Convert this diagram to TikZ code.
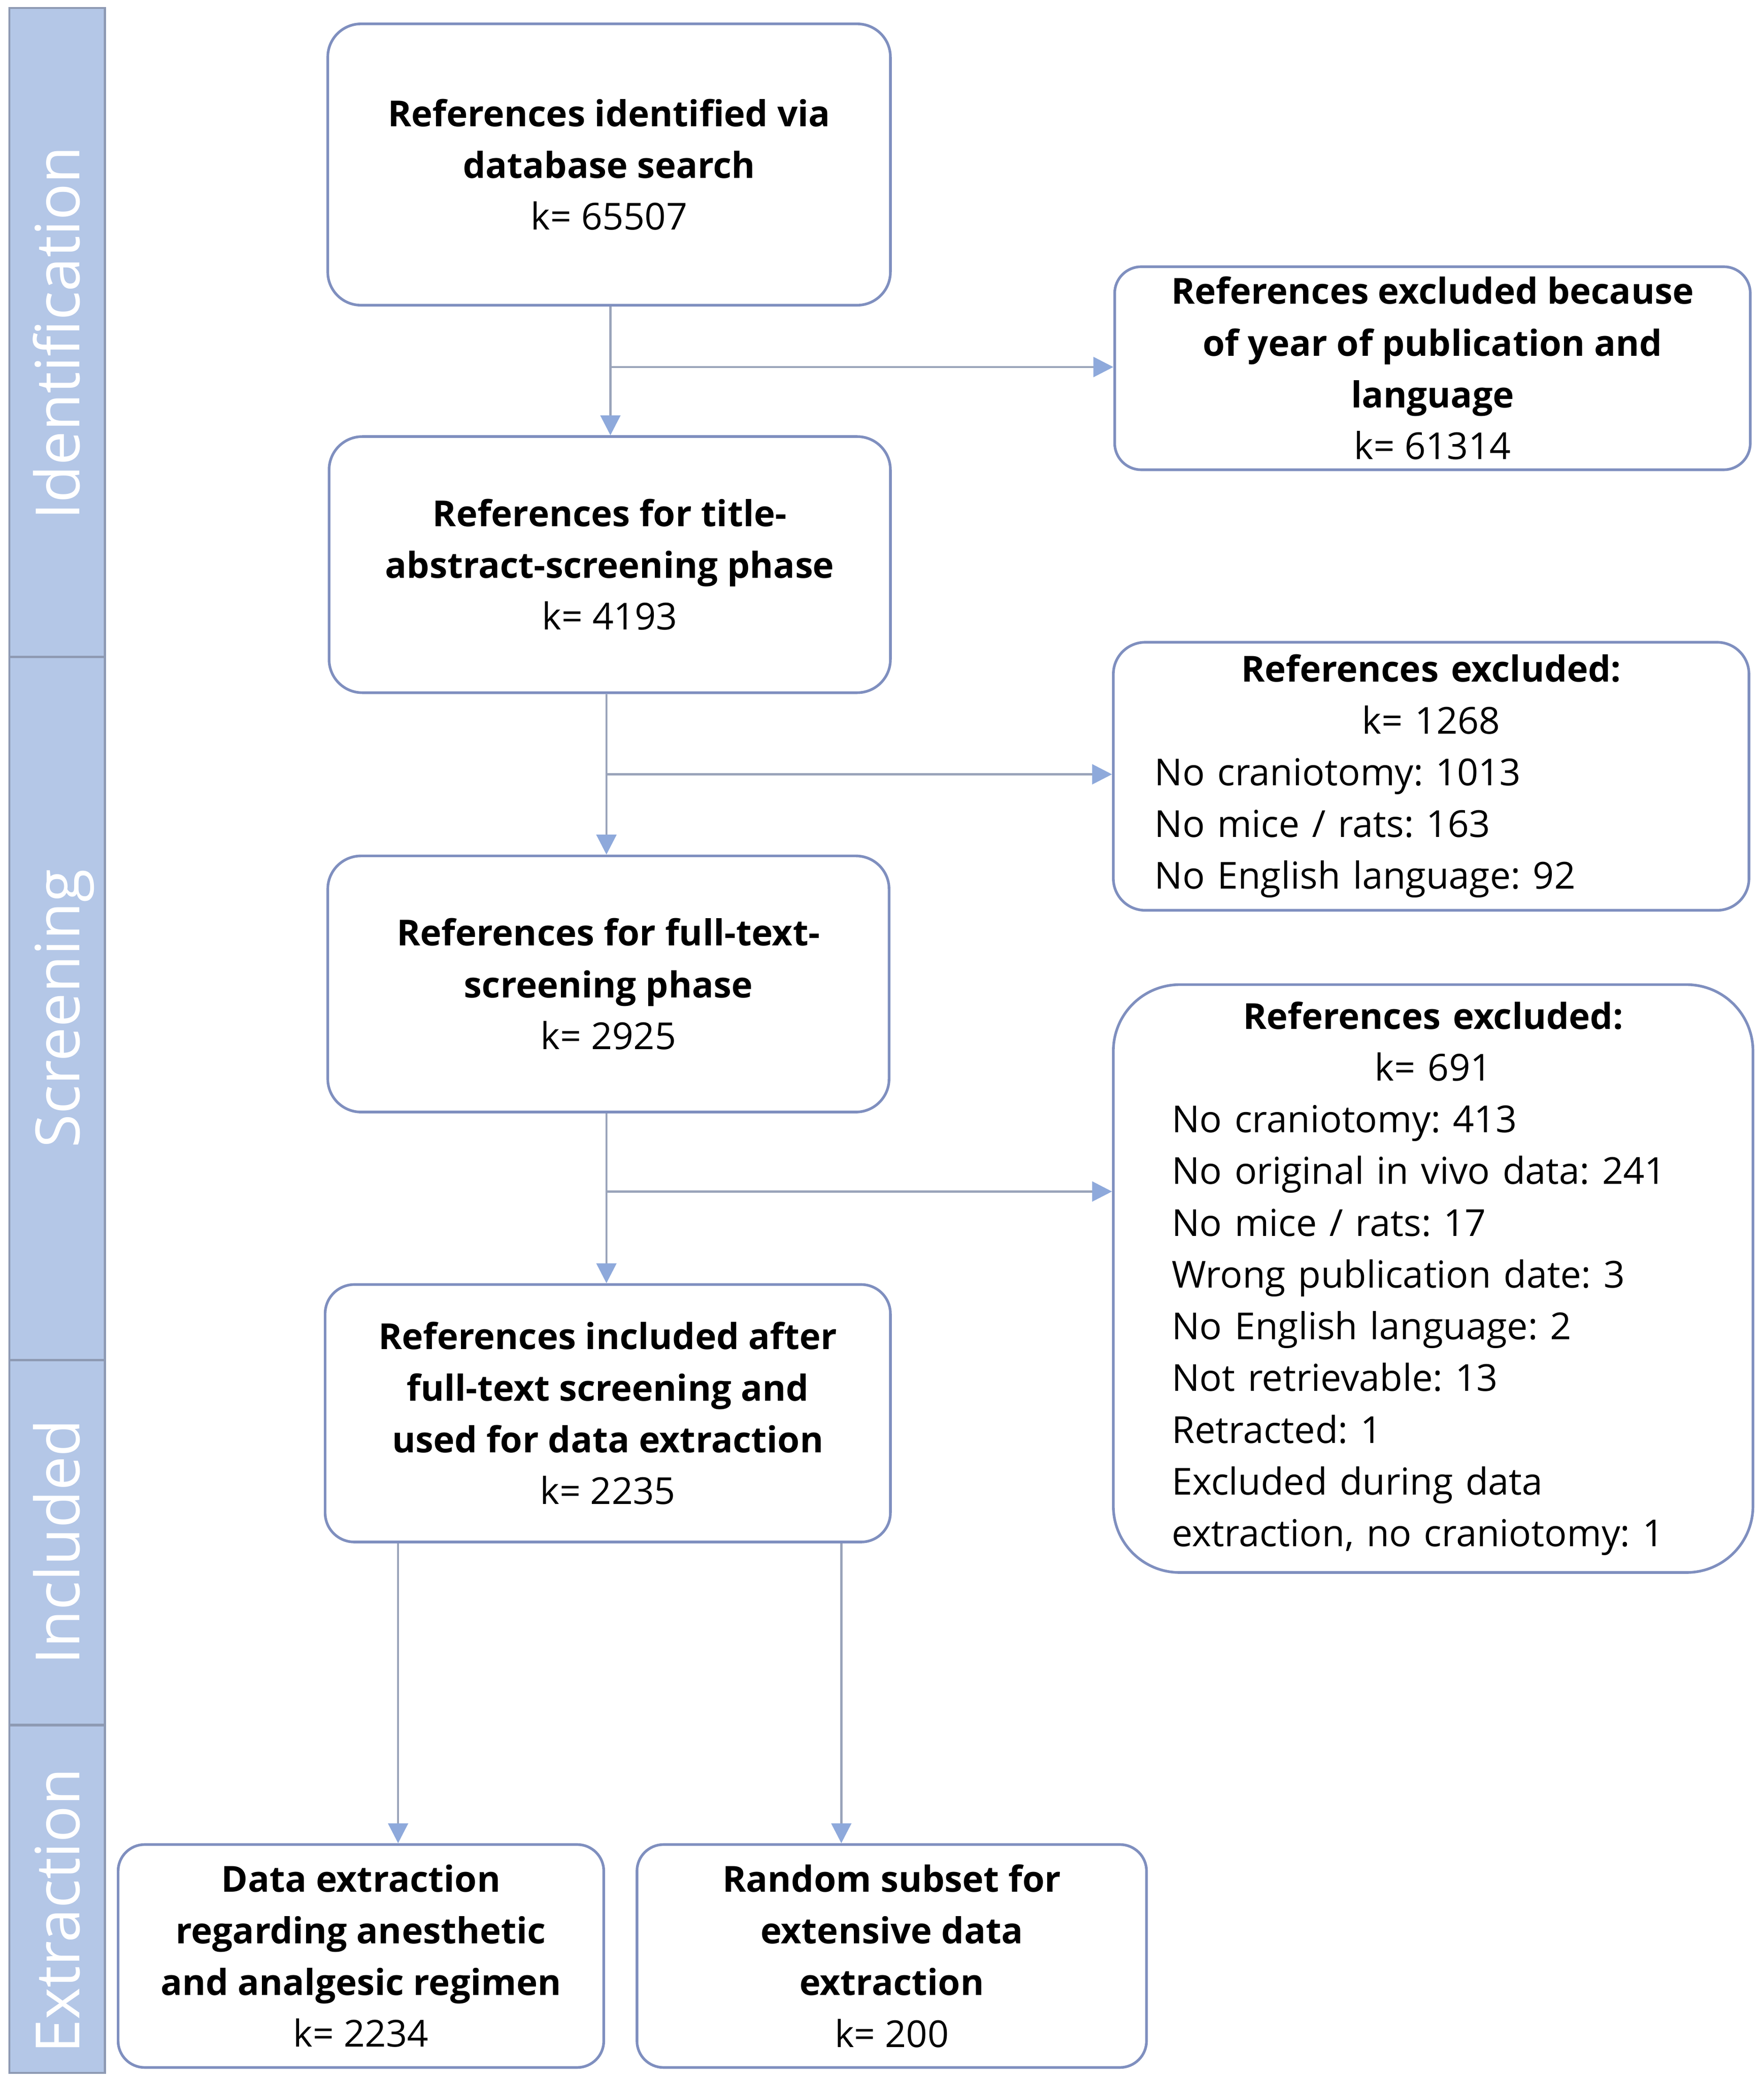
\documentclass[tikz,border=0pt]{standalone}
\usepackage{fontspec}
\setmainfont{Open Sans}
\usetikzlibrary{arrows.meta,calc}
\definecolor{boxline}{HTML}{7F8FBF}
\definecolor{sidefill}{HTML}{B4C7E7}
\definecolor{sideline}{HTML}{8E9AB3}
\definecolor{arrline}{HTML}{9AA4BA}
\definecolor{arrhead}{HTML}{8EA9DB}
\newcommand{\bt}[1]{{\fontsize{13.5}{19.5}\selectfont\bfseries #1}}
\frenchspacing
\begin{document}
\begin{tikzpicture}[x=0.5pt,y=-0.5pt,
  box/.style={draw=boxline,line width=1pt,rounded corners=12.5pt,fill=white,align=center,inner sep=0pt,font=\fontsize{14}{19.5}\selectfont\frenchspacing},
  listbox/.style={box,align=left},
  arr/.style={draw=arrline,line width=0.8pt,-{Triangle[width=7.5pt,length=7.5pt,fill=arrhead,color=arrhead]}},
  sidelabel/.style={rotate=90,anchor=base,text=white,inner sep=0pt,font=\fontsize{23}{23}\selectfont}]
\useasboundingbox (0,0) rectangle (1329,1566.7);
% sidebar
\draw[draw=sideline,fill=sidefill,line width=0.8pt] (7,6) rectangle (79,1562);
\draw[draw=sideline,line width=1pt] (7,495) -- (79,495);
\draw[draw=sideline,line width=1pt] (7,1025) -- (79,1025);
\draw[draw=sideline,line width=1pt] (7,1300) -- (79,1300);
\node[sidelabel] (lid) at (60,251) {Identification};
\node[sidelabel] (lsc) at (60,760) {Screening};
\node[sidelabel] (lin) at (60,1162) {Included};
\node[sidelabel] (lex) at (60,1440) {Extraction};
% boxes
\node[box,minimum width=212pt,minimum height=106pt] (b1) at (459,124)
  {\bt{References identified via}\\\bt{database search}\\k= 65507};
\node[box,rounded corners=10pt,minimum width=239.5pt,minimum height=76.5pt] (b2) at (1079.5,277.5)
  {\bt{References excluded because}\\\bt{of year of publication and}\\\bt{language}\\k= 61314};
\node[box,minimum width=211.5pt,minimum height=96.5pt] (b3) at (459.5,425.5)
  {\bt{References for title-}\\\bt{abstract-screening phase}\\k= 4193};
\node[listbox,rounded corners=12pt,minimum width=239.5pt,minimum height=101pt,text width=208.5pt] (b4) at (1078.5,585)
  {\makebox[\linewidth]{\bt{References excluded:}}\\\makebox[\linewidth]{k= 1268}\\No craniotomy: 1013\\No mice / rats: 163\\No English language: 92};
\node[box,minimum width=211.5pt,minimum height=96.5pt] (b5) at (458.5,741.5)
  {\bt{References for full-text-}\\\bt{screening phase}\\k= 2925};
\node[listbox,rounded corners=25pt,minimum width=241pt,minimum height=221.5pt,text width=197pt] (b6) at (1080,963.5)
  {\makebox[\linewidth]{\bt{References excluded:}}\\\makebox[\linewidth]{k= 691}\\No craniotomy: 413\\No original in vivo data: 241\\No mice / rats: 17\\Wrong publication date: 3\\No English language: 2\\Not retrievable: 13\\Retracted: 1\\Excluded during data\\extraction, no craniotomy: 1};
\node[box,rounded corners=11pt,minimum width=213pt,minimum height=97pt] (b7) at (458,1065)
  {\bt{References included after}\\\bt{full-text screening and}\\\bt{used for data extraction}\\k= 2235};
\node[box,rounded corners=10pt,minimum width=183pt,minimum height=84pt] (b8) at (272,1474)
  {\bt{Data extraction}\\\bt{regarding anesthetic}\\\bt{and analgesic regimen}\\k= 2234};
\node[box,rounded corners=10pt,minimum width=192pt,minimum height=84pt] (b9) at (672,1474)
  {\bt{Random subset for}\\\bt{extensive data}\\\bt{extraction}\\k= 200};
% connectors
\coordinate (v1) at (460,0);
\coordinate (v2) at (457,0);
\coordinate (x8) at (300,0);
\coordinate (x9) at (634,0);
\draw[arr] (b1.south -| v1) -- (b3.north -| v1);
\coordinate (m1) at ($(b1.south -| v1)!0.47!(b3.north -| v1)$);
\draw[arr] (m1) -- (m1 -| b2.west);
\draw[arr] (b3.south -| v2) -- (b5.north -| v2);
\coordinate (m2) at ($(b3.south -| v2)!0.5!(b5.north -| v2)$);
\draw[arr] (m2) -- (m2 -| b4.west);
\draw[arr] (b5.south -| v2) -- (b7.north -| v2);
\coordinate (m3) at ($(b5.south -| v2)!0.46!(b7.north -| v2)$);
\draw[arr] (m3) -- (m3 -| b6.west);
\draw[arr] (b7.south -| x8) -- (b8.north -| x8);
\draw[arr] (b7.south -| x9) -- (b9.north -| x9);
\end{tikzpicture}
\end{document}
